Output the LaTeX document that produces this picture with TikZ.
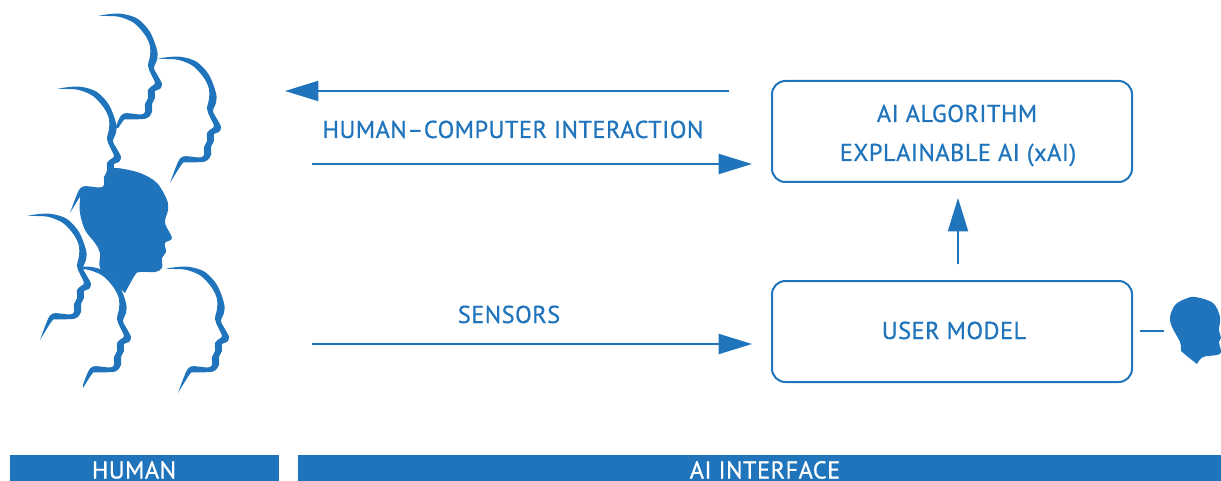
\documentclass[tikz,border=0pt]{standalone}
\usepackage{fontspec}
\setmainfont[LetterSpace=1.9,FakeBold=0.7]{PT Sans}
\usetikzlibrary{arrows.meta}
\definecolor{diagblue}{HTML}{1F74BB}
\tikzset{
  px/.style={x=0.75pt,y=-0.75pt},
  flow/.style={draw=diagblue,line width=1.5pt,-{Triangle[length=25pt,width=15pt]}},
  plainline/.style={draw=diagblue,line width=1.5pt},
  panel/.style={draw=diagblue,line width=1.5pt,rounded corners=10pt,minimum width=270pt,minimum height=75.75pt,inner sep=0pt},
  lab/.style={text=diagblue,font=\fontsize{18.3}{20}\selectfont,inner sep=0pt,anchor=base},
  barlab/.style={text=white,font=\fontsize{18.3}{20}\selectfont,inner sep=0pt,anchor=base},
  bar/.style={fill=diagblue,draw=none}
}
\newcommand{\outlinehead}[2]{%
  \fill[diagblue,shift={(#1,#2)}] plot[smooth,tension=0.55] coordinates{
   (0,0)(12,-2)(25,-2)(40,3)(52,16)(59,34)(59,44)(56,52)(60,60)(64,68)(62,73)(57,75)(57,82)(54,88)(54,96)(48,102.5)(30,103.5)(25,105)(13,124)}
   -- plot[smooth,tension=0.55] coordinates{
   (13,124)(21,103)(26,97.5)(33,97.5)(43,98.5)(47,96)(47,88)(50,82)(50,74)(54,70)(57,67)(53,58)(50,50)(52,40)(52,30)(47,19)(36,7)(22,1)(10,0)(0,0)} -- cycle;}
\begin{document}
\begin{tikzpicture}[px]
\useasboundingbox (0,0) rectangle (1221,481);
% outline heads
\begin{scope}
 \clip (0,0) rectangle (1221,128);
 \outlinehead{98}{16}
\end{scope}
\outlinehead{157}{59}
\outlinehead{57}{89}
\outlinehead{27}{216}
\begin{scope}
 \clip (83,0) rectangle (1221,481);
 \outlinehead{67}{269}
\end{scope}
\outlinehead{165}{269}
% filled head
\fill[diagblue] plot[smooth,tension=0.55] coordinates{
 (107,170)(117,168)(140,173)(157,183)(167,200)(168,210)(165,223)(172,238)(165,243)(166,252)(162,258)(162,268)(155,272)(140,272)(135,275)(125,293)}
 -- plot[smooth,tension=0.55] coordinates{
 (125,293)(120,288)(113,278)(100,268)(100,253)(95,243)(85,230)(80,213)(80,200)(83,190)(103,187)(107,170)} -- cycle;
% small head
\fill[diagblue] plot[smooth,tension=0.55] coordinates{
 (1181,351)(1180,342)(1172,327)(1170,317)(1175,305)(1185,299)(1195,297)(1213,303)(1220,317)(1219,330)(1221,338)(1219,342)(1221,352)(1217,355)(1203,357)(1197,364)}
 -- (1188,357) -- cycle;
% boxes
\node[panel] (algo) at (952,131.5) {};
\node[panel] (model) at (952,331.5) {};
\node[lab] (algot) at (957,122) {AI ALGORITHM};
\node[lab] (algoe) at (958,161) {EXPLAINABLE AI (xAI)};
\node[lab] (modelt) at (954,339) {USER MODEL};
% labels
\node[lab] (hci) at (513,138) {HUMAN–COMPUTER INTERACTION};
\node[lab] (sens) at (509,323) {SENSORS};
% connectors
\coordinate (a1s) at (729,91); \coordinate (a1e) at (285,91);
\coordinate (a2s) at (312,164); \coordinate (a2e) at (752,164);
\coordinate (a3s) at (312,344); \coordinate (a3e) at (752,344);
\coordinate (a4s) at (958,264); \coordinate (a4e) at (958,198);
\coordinate (l1s) at (1140,331); \coordinate (l1e) at (1164,331);
\draw[flow] (a1s) -- (a1e);
\draw[flow] (a2s) -- (a2e);
\draw[flow] (a3s) -- (a3e);
\draw[flow] (a4s) -- (a4e);
\draw[plainline] (l1s) -- (l1e);
% bars
\fill[bar] (10,455) rectangle (279,481);
\fill[bar] (298,455) rectangle (1221,481);
\node[barlab] (hum) at (134,478.5) {HUMAN};
\node[barlab] (ai) at (765,478.5) {AI INTERFACE};
\end{tikzpicture}
\end{document}
